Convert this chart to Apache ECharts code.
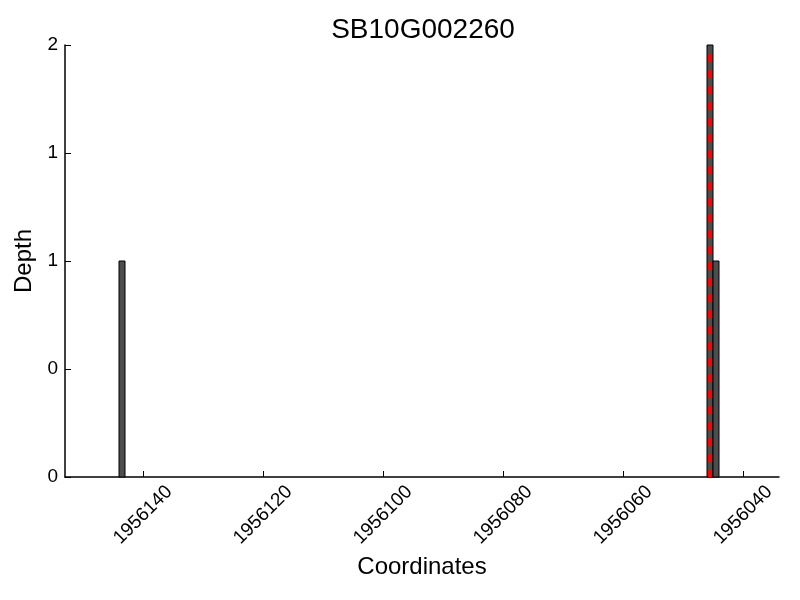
<!DOCTYPE html>
<html>
<head>
<meta charset="utf-8">
<script src="https://cdn.jsdelivr.net/npm/echarts@6/dist/echarts.min.js"></script>
<style>
  html, body { margin: 0; padding: 0; background: #fff; }
  #chart { width: 800px; height: 600px; }
</style>
</head>
<body>
<div id="chart"></div>
<script>
// bins: start / end coordinate and depth
var binStart = [1956144, 1956046, 1956045]
var binEnd = [1956143, 1956045, 1956044]
var depth = [1, 2, 1]
var markerPos = 1956045.5
var xTicks = [1956140, 1956120, 1956100, 1956080, 1956060, 1956040]
var yTickLabels = ['0', '0', '1', '1', '2']

var chart = echarts.init(document.getElementById('chart'))
var font = 'Liberation Sans, Arial, sans-serif'

var bins = binStart.map(function (s, i) { return [s, binEnd[i], depth[i]] })

chart.setOption({
  animation: false,
  title: {
    text: 'SB10G002260',
    left: 418,
    textAlign: 'center',
    top: 11,
    textStyle: { fontFamily: font, fontSize: 28, fontWeight: 'normal', color: '#000' }
  },
  grid: { left: 65, right: 21, top: 45, bottom: 123 },
  xAxis: {
    type: 'value',
    inverse: true,
    min: 1956034,
    max: 1956153,
    name: 'Coordinates',
    nameLocation: 'middle',
    nameGap: 77,
    nameTextStyle: { fontFamily: font, fontSize: 24, color: '#000' },
    axisLine: { show: true, lineStyle: { color: '#000', width: 1.5 } },
    axisTick: { show: true, inside: true, length: 6, customValues: xTicks, lineStyle: { color: '#000' } },
    axisLabel: {
      customValues: xTicks,
      rotate: 45,
      align: 'center',
      verticalAlign: 'middle',
      margin: 38,
      fontFamily: font,
      fontSize: 19,
      color: '#000',
      formatter: function (v) { return String(v) }
    },
    splitLine: { show: false }
  },
  yAxis: {
    type: 'value',
    min: 0,
    max: 2,
    interval: 0.5,
    name: 'Depth',
    nameLocation: 'middle',
    nameGap: 24,
    nameTextStyle: { fontFamily: font, fontSize: 24, color: '#000' },
    axisLine: { show: true, lineStyle: { color: '#000', width: 1.5 } },
    axisTick: { show: true, inside: true, length: 6, lineStyle: { color: '#000' } },
    axisLabel: {
      margin: 7,
      fontFamily: font,
      fontSize: 19,
      color: '#000',
      formatter: function (v, i) { return yTickLabels[i] }
    },
    splitLine: { show: false }
  },
  series: [{
    type: 'custom',
    data: bins,
    encode: { x: [0, 1], y: 2 },
    renderItem: function (params, api) {
      var p0 = api.coord([api.value(0), api.value(2)])
      var p1 = api.coord([api.value(1), 0])
      var x = Math.min(p0[0], p1[0])
      return {
        type: 'rect',
        shape: { x: x, y: p0[1], width: Math.abs(p1[0] - p0[0]), height: p1[1] - p0[1] },
        style: { fill: '#4d4d4d', stroke: '#000', lineWidth: 1 }
      }
    },
    z: 2
  }, {
    type: 'line',
    data: [],
    z: 10,
    markLine: {
      silent: true,
      symbol: 'none',
      label: { show: false },
      lineStyle: { color: '#ff0000', width: 4, type: [8, 8], opacity: 1 },
      data: [{ xAxis: markerPos }]
    }
  }]
})
</script>
</body>
</html>
